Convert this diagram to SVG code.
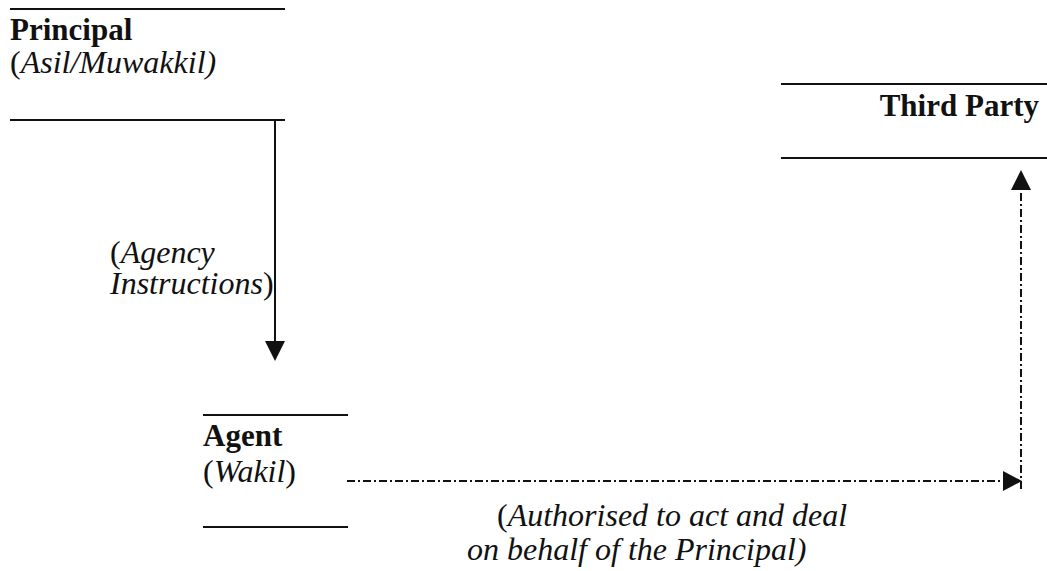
<svg xmlns="http://www.w3.org/2000/svg" width="1047" height="571" viewBox="0 0 1047 571">
  <style>
    .rule { stroke: #111; stroke-width: 2; fill: none; }
    .solid { stroke: #111; stroke-width: 2; fill: none; }
    .dashdot { stroke: #111; stroke-width: 2; fill: none; stroke-dasharray: 8 3 2 3; }
    .head { fill: #111; }
    .b { font-family: 'Liberation Serif', 'DejaVu Serif', serif; font-weight: bold; font-size: 31px; fill: #111; }
    .i { font-family: 'Liberation Serif', 'DejaVu Serif', serif; font-style: italic; font-size: 32px; fill: #111; }
    .up { font-style: normal; }
  </style>
  <rect width="1047" height="571" fill="#fff"/>

  <!-- Principal -->
  <g id="principal">
    <line class="rule" x1="10" y1="9" x2="285" y2="9"/>
    <text class="b" x="10" y="40">Principal</text>
    <text class="i" x="10" y="73"><tspan class="up">(</tspan>Asil/Muwakkil)</text>
    <line class="rule" x1="10" y1="120" x2="285" y2="120"/>
  </g>

  <!-- Third Party -->
  <g id="third-party">
    <line class="rule" x1="781" y1="84" x2="1047" y2="84"/>
    <text class="b" x="1039" y="116" text-anchor="end">Third Party</text>
    <line class="rule" x1="781" y1="158" x2="1047" y2="158"/>
  </g>

  <!-- Agent -->
  <g id="agent">
    <line class="rule" x1="203" y1="415" x2="348" y2="415"/>
    <text class="b" x="203" y="446">Agent</text>
    <text class="i" x="203" y="482"><tspan class="up">(</tspan>Wakil<tspan class="up">)</tspan></text>
    <line class="rule" x1="203" y1="527" x2="348" y2="527"/>
  </g>

  <!-- Connectors and their labels -->
  <g id="connectors">
    <!-- principal to agent: agency instructions -->
    <line class="solid" x1="275" y1="120" x2="275" y2="343"/>
    <polygon class="head" points="265,341 285,341 275,361"/>
    <text class="i" x="110" y="263"><tspan class="up">(</tspan>Agency</text>
    <text class="i" x="110" y="294">Instructions<tspan class="up">)</tspan></text>

    <!-- agent to third party: authorised dealing -->
    <line class="dashdot" x1="347" y1="481" x2="1005" y2="481"/>
    <polygon class="head" points="1003,471 1003,491 1022,481"/>
    <line class="dashdot" x1="1021" y1="489" x2="1021" y2="188"/>
    <polygon class="head" points="1011,190 1031,190 1021,170"/>
    <text class="i" x="497" y="526"><tspan class="up">(</tspan>Authorised to act and deal</text>
    <text class="i" x="467" y="560">on behalf of the Principal)</text>
  </g>
</svg>
